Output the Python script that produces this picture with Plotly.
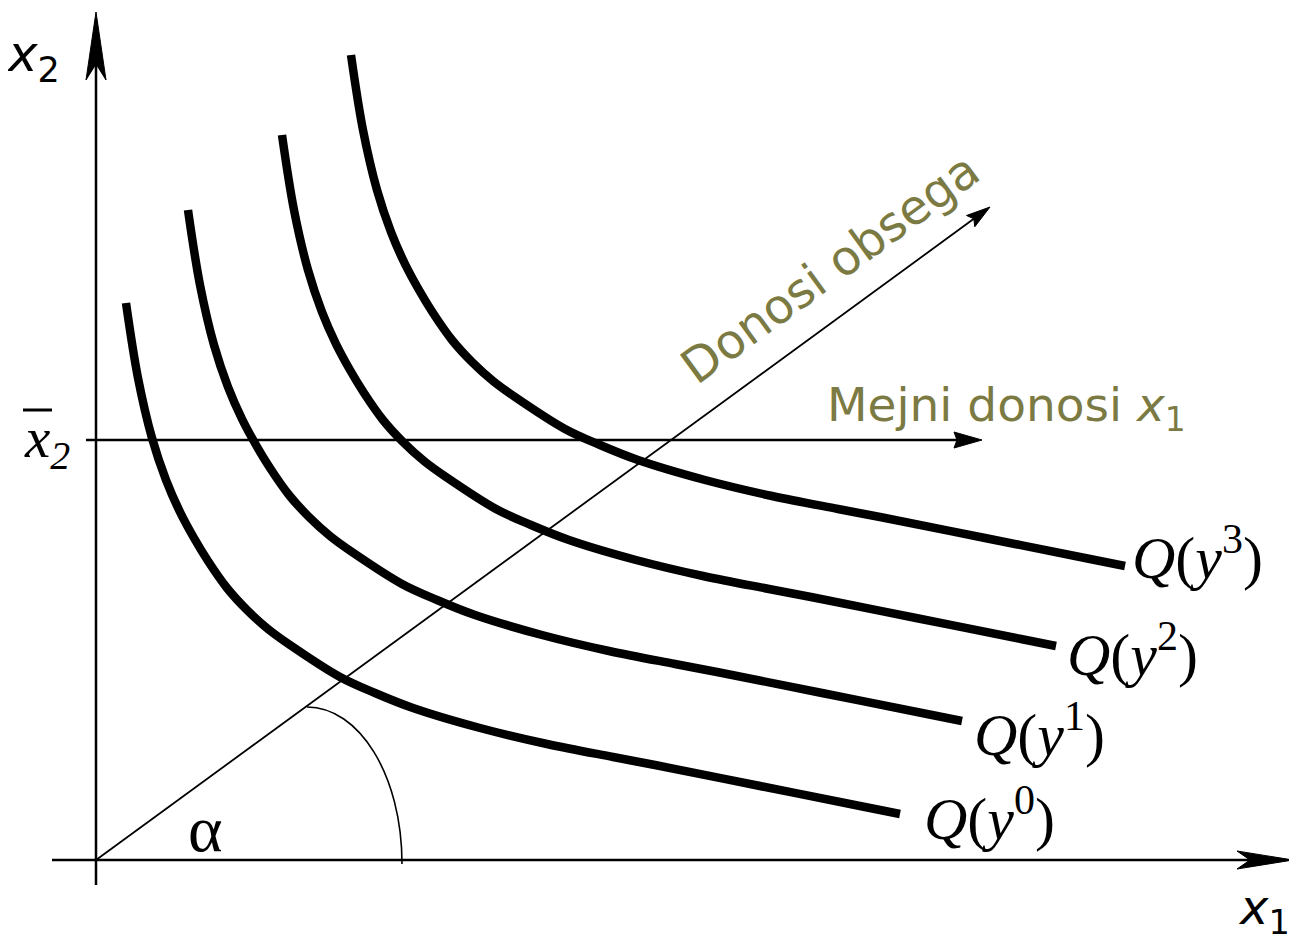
import math
import plotly.graph_objects as go

# ---- data (chart units; origin of the x1/x2 axes at 0,0) ----
q0_x = [30, 42, 56, 70, 84, 98, 112, 131, 151, 172, 194, 244, 279, 317, 384, 451, 517, 559, 664, 769, 804]
q0_y = [557, 482, 422, 380, 348, 322, 299, 272, 250, 231, 215, 183, 167, 152, 132, 116, 103, 95, 74, 53, 46]

q1_x = [92, 104, 118, 132, 146, 160, 174, 193, 213, 234, 256, 306, 341, 379, 446, 513, 579, 621, 726, 831, 866]
q1_y = [650, 575, 515, 473, 441, 415, 392, 365, 343, 324, 308, 276, 260, 245, 225, 209, 196, 188, 167, 146, 139]

q2_x = [186, 198, 212, 226, 240, 254, 268, 287, 307, 328, 350, 400, 435, 473, 540, 607, 673, 715, 820, 925, 960]
q2_y = [725, 650, 590, 548, 516, 490, 467, 440, 418, 399, 383, 351, 335, 320, 300, 284, 271, 263, 242, 221, 214]

q3_x = [255, 267, 281, 295, 309, 323, 337, 356, 376, 397, 419, 469, 504, 542, 609, 676, 742, 784, 889, 994, 1029]
q3_y = [805, 730, 670, 628, 596, 570, 547, 520, 498, 479, 463, 431, 415, 400, 380, 364, 351, 343, 322, 301, 294]

curve_labels = ["Q(<i>y</i><sup>0</sup>)", "Q(<i>y</i><sup>1</sup>)",
                "Q(<i>y</i><sup>2</sup>)", "Q(<i>y</i><sup>3</sup>)"]

ray_end = (894, 653)      # "Donosi obsega" ray
xbar2_level = 420         # x̄2 horizontal line
xbar2_end = 886
x_axis_span = (-44, 1197)
y_axis_span = (-25, 848)

OLIVE = "rgb(124,122,67)"
SERIF = "Liberation Serif"
SANS = "DejaVu Sans"

fig = go.Figure()

for xs, ys in [(q0_x, q0_y), (q1_x, q1_y), (q2_x, q2_y), (q3_x, q3_y)]:
    fig.add_trace(go.Scatter(x=xs, y=ys, mode="lines",
                             line=dict(color="black", width=8.5, shape="spline", smoothing=1.0),
                             hoverinfo="skip", showlegend=False))

shapes = []


def arrow(x0, y0, x1, y1, width, head_len, head_half, notch):
    ang = math.atan2(y1 - y0, x1 - x0)
    ux, uy = math.cos(ang), math.sin(ang)
    vx, vy = -uy, ux
    bx, by = x1 - head_len * ux, y1 - head_len * uy
    nx, ny = x1 - (head_len - notch) * ux, y1 - (head_len - notch) * uy
    shapes.append(dict(type="line", xref="x", yref="y", x0=x0, y0=y0, x1=nx, y1=ny,
                       line=dict(color="black", width=width)))
    path = (f"M {x1},{y1} L {bx + head_half * vx},{by + head_half * vy} "
            f"L {nx},{ny} L {bx - head_half * vx},{by - head_half * vy} Z")
    shapes.append(dict(type="path", xref="x", yref="y", path=path,
                       fillcolor="black", line=dict(color="black", width=1)))


# axes
arrow(x_axis_span[0], 0, x_axis_span[1], 0, 2.5, 56, 9, 13)
arrow(0, y_axis_span[0], 0, y_axis_span[1], 2.5, 68, 10, 16)
# ray and horizontal line
arrow(0, 0, ray_end[0], ray_end[1], 1.8, 24, 7, 4)
arrow(-10, xbar2_level, xbar2_end, xbar2_level, 2.5, 28, 8, 3)

# angle arc
shapes.append(dict(type="path", xref="x", yref="y",
                   path="M 211,153 C 263,153 306,85 306,-4",
                   line=dict(color="black", width=1.6)))
# overline of x̄2
shapes.append(dict(type="line", xref="x", yref="y", x0=-73, y0=450, x1=-44, y1=450,
                   line=dict(color="black", width=3)))

ann = []
# curve labels
label_pos = [(826, 46), (876, 130), (969, 210), (1034, 307)]
for (lx, ly), t in zip(label_pos, curve_labels):
    ann.append(dict(x=lx, y=ly, text=t.replace("Q", "<i>Q</i>", 1), showarrow=False,
                    xanchor="left", yanchor="middle",
                    font=dict(family=SERIF, size=60, color="black")))

ann.append(dict(x=-63, y=803, text="<i>x</i><sub>2</sub>", showarrow=False,
                xanchor="center", yanchor="middle",
                font=dict(family=SANS, size=50, color="black")))
ann.append(dict(x=1168, y=-50, text="<i>x</i><sub>1</sub>", showarrow=False,
                xanchor="center", yanchor="middle",
                font=dict(family=SANS, size=48, color="black")))
ann.append(dict(x=-74, y=418, text="<i>x</i><sub><i>2</i></sub>", showarrow=False,
                xanchor="left", yanchor="middle",
                font=dict(family=SERIF, size=57, color="black")))
ann.append(dict(x=109, y=32, text="α", showarrow=False,
                xanchor="center", yanchor="middle",
                font=dict(family=SERIF, size=66, color="black")))
ann.append(dict(x=734, y=592, text="Donosi obsega", showarrow=False, textangle=-36,
                xanchor="center", yanchor="middle",
                font=dict(family=SANS, size=48, color=OLIVE)))
ann.append(dict(x=729, y=452, text="Mejni donosi <i>x</i><sub>1</sub>", showarrow=False,
                xanchor="left", yanchor="middle",
                font=dict(family=SANS, size=47, color=OLIVE)))

# the page body has an 8px margin: size the figure to the remaining area
fig.update_layout(
    width=1289, height=929,
    margin=dict(l=0, r=0, t=0, b=0),
    paper_bgcolor="white", plot_bgcolor="white",
    xaxis=dict(range=[-88, 1201], visible=False, fixedrange=True),
    yaxis=dict(range=[-77, 852], visible=False, fixedrange=True),
    shapes=shapes, annotations=ann, showlegend=False,
)

fig.write_html("out.html")
